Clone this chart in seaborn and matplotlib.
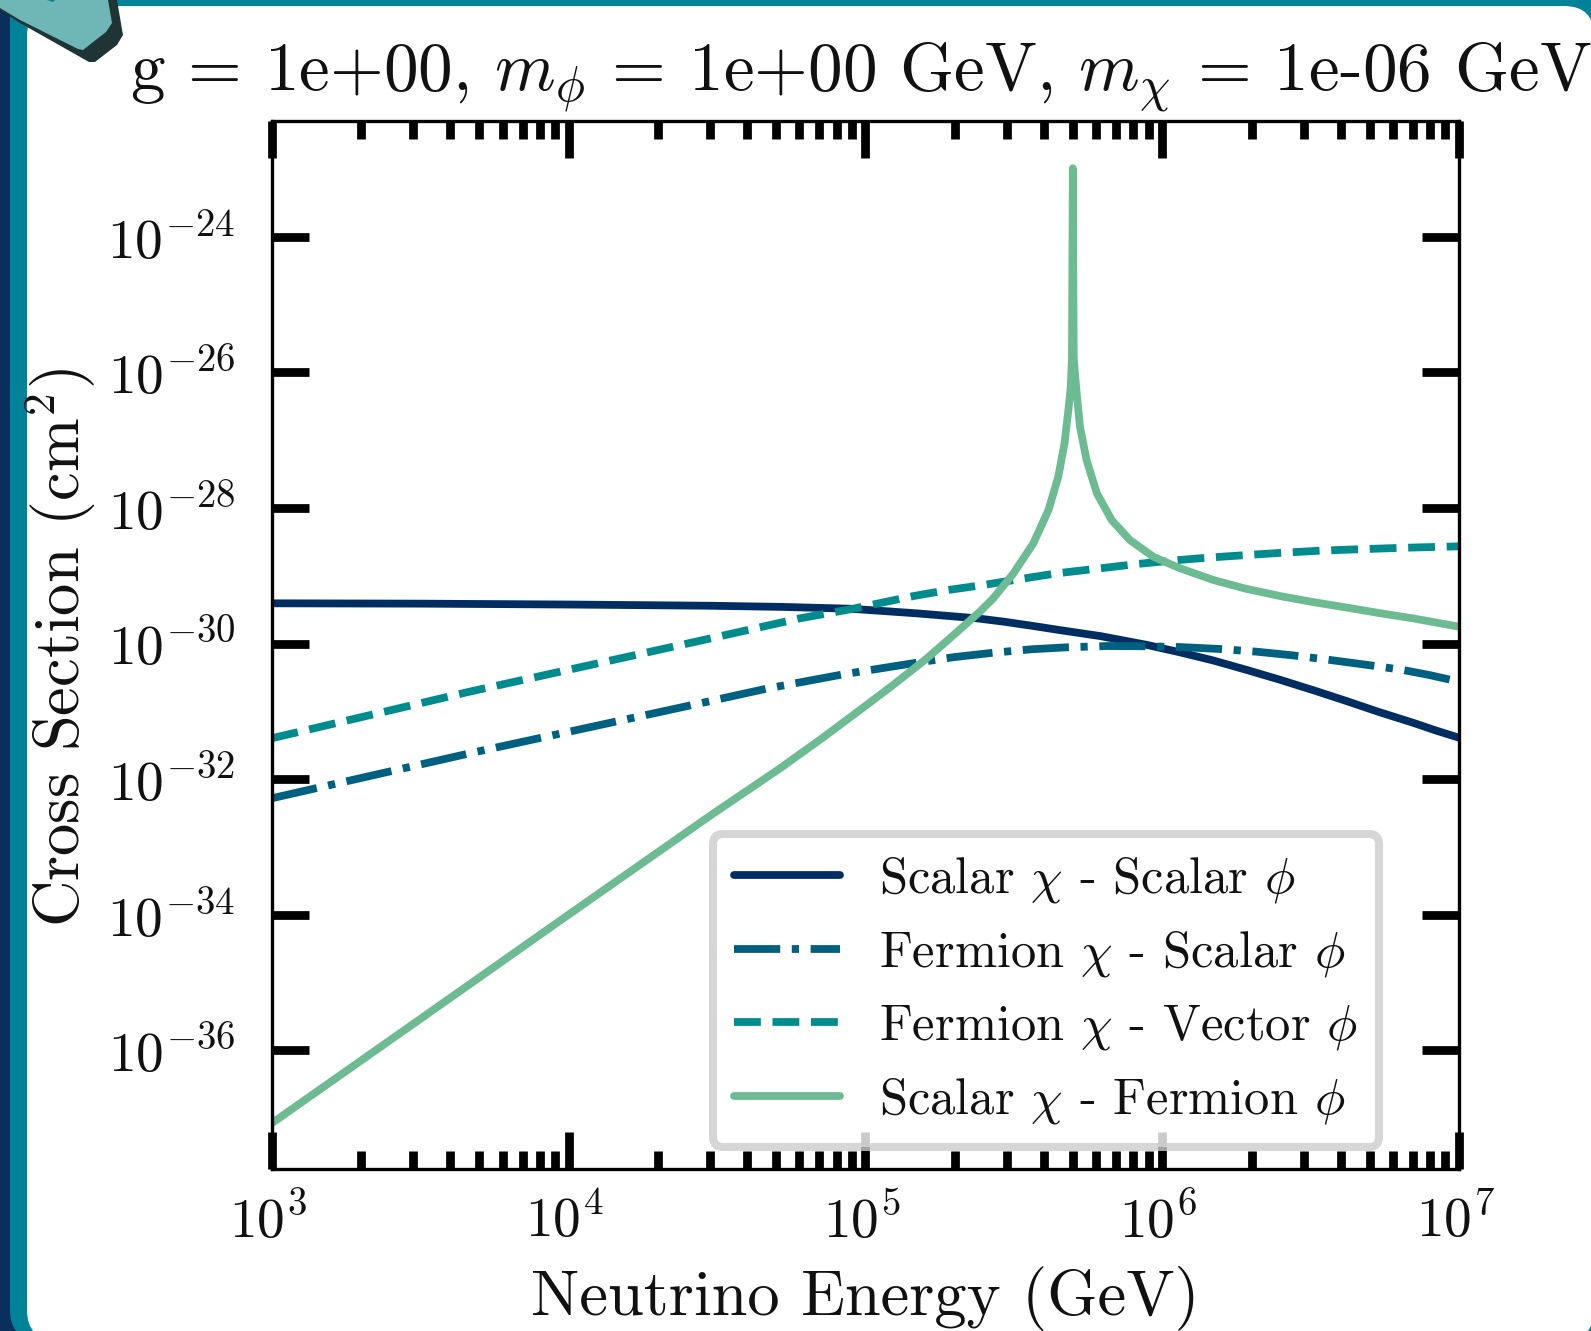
import numpy as np
import matplotlib
matplotlib.use("Agg")
import matplotlib.pyplot as plt
from matplotlib.patches import FancyBboxPatch, Polygon, Rectangle
from matplotlib.transforms import Affine2D, ScaledTranslation
from matplotlib.ticker import LogLocator, NullLocator, NullFormatter, FixedLocator
import seaborn as sns

W, H = 1591, 1331

# values: log10(energy / GeV), log10(cross section / cm^2)
ss_e = [3.0, 3.5, 4.0, 4.477, 4.72, 4.949, 5.173, 5.27, 5.375, 5.47, 5.566, 5.67, 5.791, 5.948, 6.06, 6.172, 6.285, 6.397, 6.51, 6.622, 6.73, 6.846, 6.92, 7.0]
ss_s = [-29.407, -29.412, -29.425, -29.443, -29.46, -29.487, -29.555, -29.59, -29.628, -29.68, -29.742, -29.812, -29.89, -30.02, -30.13, -30.25, -30.39, -30.535, -30.69, -30.85, -31.01, -31.17, -31.28, -31.39]

fs_e = [3.0, 3.691, 4.443, 4.668, 4.926, 5.173, 5.30, 5.431, 5.56, 5.679, 5.813, 5.93, 6.06, 6.19, 6.319, 6.44, 6.566, 6.69, 6.812, 6.9, 7.0]
fs_s = [-32.283, -31.596, -30.882, -30.665, -30.454, -30.283, -30.20, -30.136, -30.085, -30.056, -30.037, -30.04, -30.052, -30.08, -30.121, -30.175, -30.243, -30.315, -30.391, -30.465, -30.563]

fv_e = [3.0, 3.657, 4.443, 4.78, 4.949, 5.162, 5.28, 5.398, 5.52, 5.645, 5.791, 5.91, 6.027, 6.155, 6.285, 6.41, 6.532, 6.66, 6.79, 6.9, 7.0]
fv_s = [-31.398, -30.72, -29.959, -29.628, -29.496, -29.3, -29.21, -29.137, -29.05, -28.965, -28.891, -28.83, -28.779, -28.733, -28.695, -28.66, -28.631, -28.61, -28.591, -28.578, -28.567]

sf_e = [3.0, 3.5, 4.0, 4.477, 4.713, 4.847, 4.982, 5.094, 5.207, 5.296, 5.386, 5.431, 5.499, 5.566, 5.617, 5.650, 5.671, 5.684, 5.692, 5.696, 5.699,
        5.702, 5.712, 5.723, 5.745, 5.78, 5.83, 5.891, 5.97, 6.06, 6.173, 6.28, 6.397, 6.51, 6.622, 6.73, 6.846, 7.0]
sf_s = [-37.077, -35.54, -34.0, -32.54, -31.84, -31.42, -30.98, -30.61, -30.22, -29.88, -29.53, -29.333, -28.965, -28.522, -28.031, -27.54, -27.047, -26.556, -26.212, -25.8, -22.99,
        -25.8, -26.31, -26.80, -27.29, -27.785, -28.18, -28.473, -28.72, -28.89, -29.064, -29.19, -29.3, -29.39, -29.47, -29.55, -29.63, -29.752]

series_labels = [r"Scalar $\chi$ - Scalar $\phi$", r"Fermion $\chi$ - Scalar $\phi$",
                 r"Fermion $\chi$ - Vector $\phi$", r"Scalar $\chi$ - Fermion $\phi$"]
series_colors = ["#002D62", "#00607F", "#008C8C", "#6DBB93"]
series_styles = ["-", (0, (5.94, 1.49, 0.93, 1.49)), (0, (3.45, 1.5)), "-"]

x_tick_exps = [3, 4, 5, 6, 7]
y_tick_exps = [-24, -26, -28, -30, -32, -34, -36]
title_text = r"g = 1e+00, $m_\phi$ = 1e+00 GeV, $m_\chi$ = 1e-06 GeV"
x_label = "Neutrino Energy (GeV)"
y_label = r"Cross Section (cm$^2$)"

sns.set_theme(style="ticks")
plt.rcParams["font.family"] = ["cmr10", "DejaVu Serif"]
plt.rcParams["mathtext.fontset"] = "cm"
plt.rcParams["axes.formatter.use_mathtext"] = True
plt.rcParams["axes.unicode_minus"] = False

fig = plt.figure(figsize=(W / 100, H / 100), dpi=100, facecolor="#008299")
px = Affine2D().scale(1 / W, -1 / H).translate(0, 1) + fig.transFigure

fig.add_artist(Rectangle((0, 0), 40, H, transform=px, fc="#0A2F5C", ec="none", zorder=-12))
fig.add_artist(FancyBboxPatch((10, -40), 1700, 1380, boxstyle="round,pad=0,rounding_size=30",
                              transform=px, fc="#008299", ec="none", zorder=-11))
fig.add_artist(FancyBboxPatch((27, 6), 1567, 1334, boxstyle="round,pad=0,rounding_size=30",
                              transform=px, fc="white", ec="none", zorder=-10))
fig.add_artist(Polygon([(0, 10), (20, 23), (89, 62), (95, 62), (117, 45), (123, 35), (117, 0), (0, 0)],
                       transform=px, fc="#1F3535", ec="none", zorder=10))
fig.add_artist(Polygon([(0, 8), (20, 20), (78, 49), (83, 50), (106, 32), (112, 23), (108, 0), (0, 0)],
                       transform=px, fc="#6FB7B7", ec="none", zorder=11))
fig.add_artist(Polygon([(47, 0), (55, 0), (53, 2)], transform=px, fc="#008299", ec="none", zorder=12))

ax = fig.add_axes([271.7 / W, (H - 1169) / H, (1459 - 271.7) / W, (1169 - 121) / H])
ax.set_facecolor("none")

curves = [(ss_e, ss_s), (fs_e, fs_s), (fv_e, fv_s), (sf_e, sf_s)]
for (e, s), lab, col, sty in zip(curves, series_labels, series_colors, series_styles):
    sns.lineplot(x=10.0 ** np.array(e), y=10.0 ** np.array(s), ax=ax, color=col, linestyle=sty,
                 linewidth=5.6, label=lab, estimator=None, sort=False)

ax.set_xscale("log")
ax.set_yscale("log")
ax.set_xlim(1e3, 1e7)
ax.set_ylim(10.0 ** -37.751, 10.0 ** -22.293)

ax.xaxis.set_major_locator(FixedLocator(10.0 ** np.array(x_tick_exps)))
ax.xaxis.set_minor_locator(LogLocator(base=10, subs=np.arange(2, 10), numticks=30))
ax.xaxis.set_minor_formatter(NullFormatter())
ax.yaxis.set_major_locator(FixedLocator(10.0 ** np.array(y_tick_exps, dtype=float)))
ax.yaxis.set_minor_locator(NullLocator())

ax.tick_params(which="major", direction="in", top=True, right=True, length=26.6, width=6.3, color="black",
               labelsize=40, labelcolor="#111111")
ax.tick_params(which="minor", direction="in", top=True, right=True, length=13, width=6.3, color="black")
ax.tick_params(axis="x", which="major", pad=18)
ax.tick_params(axis="y", which="major", pad=26)
for sp in ax.spines.values():
    sp.set_linewidth(2.4)
    sp.set_color("black")

nudge = ScaledTranslation(-4 / 100, 0, fig.dpi_scale_trans)
for lab in ax.get_xticklabels():
    lab.set_transform(lab.get_transform() + nudge)

ax.set_title(title_text, fontsize=49.8, pad=22, color="#111111", x=0.4964)
ax.set_xlabel(x_label, fontsize=46.4, color="#111111")
ax.set_ylabel(y_label, fontsize=46.4, color="#111111")
ax.xaxis.set_label_coords(0.5, -0.0925)
ax.yaxis.set_label_coords(-0.1465, 0.498)

leg = ax.legend(loc="lower left", bbox_to_anchor=((713 - 271.7) / 1187.3, (1169 - 1147) / 1048),
                fontsize=36.4, borderaxespad=0, frameon=True, fancybox=True, framealpha=0.8,
                edgecolor="0.8", facecolor="white", handlelength=2.1, handletextpad=0.76,
                labelspacing=0.47, borderpad=0.42)
leg.get_frame().set_linewidth(5.8)
for t in leg.get_texts():
    t.set_color("#111111")

fig.savefig("out.png", dpi=100, facecolor=fig.get_facecolor())
